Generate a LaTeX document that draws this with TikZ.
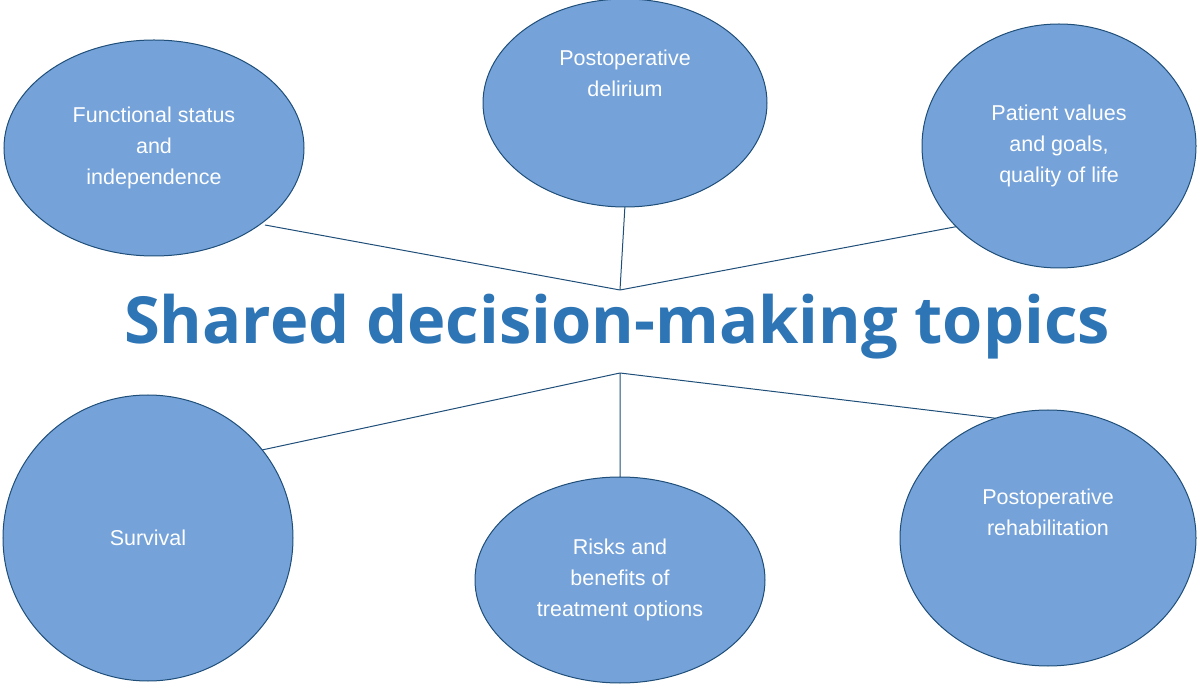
\documentclass[tikz,border=0pt]{standalone}
\usepackage{fontspec}
\setmainfont{Liberation Sans}
\newfontfamily\titlefont{Open Sans}
\usetikzlibrary{shapes.geometric}
\definecolor{efill}{HTML}{74A2D9}
\definecolor{edge}{HTML}{1F4E79}
\definecolor{ttl}{HTML}{2E75B6}
\begin{document}
\begin{tikzpicture}[x=1pt,y=-1pt,
  topic/.style={ellipse,draw=edge,line width=1pt,fill=efill,text=white,align=center,font=\fontsize{21.5}{31}\selectfont,inner sep=0pt},
  link/.style={draw=edge,line width=1pt}]
\useasboundingbox (0,0) rectangle (1200,684);
\coordinate (ht) at (620,290);
\coordinate (hb) at (620,373);
\coordinate (p1) at (265,225);
\coordinate (p2) at (625,205);
\coordinate (p3) at (965,225);
\coordinate (p4) at (248,453);
\coordinate (p5) at (620,480);
\coordinate (p6) at (1035,423);
\draw[link] (p1)--(ht) (p2)--(ht) (p3)--(ht);
\draw[link] (p4)--(hb) (p5)--(hb) (p6)--(hb);
\node[topic,minimum width=300,minimum height=216] (e1) at (154,148) {Functional status\\and\\independence};
\node[topic,minimum width=284,minimum height=208] (e2) at (625,103) {Postoperative\\delirium\\[28pt]};
\node[topic,minimum width=274,minimum height=244] (e3) at (1059,146) {Patient values\\and goals,\\quality of life};
\node[topic,minimum width=290,minimum height=286] (e4) at (148,538) {Survival};
\node[topic,minimum width=290,minimum height=206] (e5) at (620,580) {Risks and\\benefits of\\treatment options};
\node[topic,minimum width=296,minimum height=256] (e6) at (1048,538) {Postoperative\\rehabilitation\\[20pt]};
\node[text=ttl,font=\titlefont\bfseries\fontsize{65}{70}\selectfont] (t) at (617,327) {Shared decision-making topics};
\end{tikzpicture}
\end{document}
